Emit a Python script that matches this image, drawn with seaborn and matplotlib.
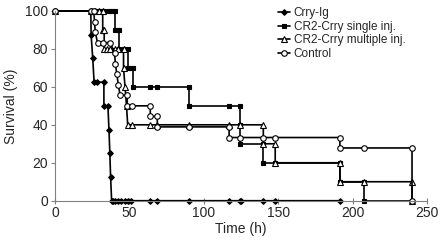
import numpy as np
import pandas as pd
import matplotlib
matplotlib.use("Agg")
import matplotlib.pyplot as plt
import seaborn as sns

# survival curves (time in h, survival in %)
# repeated times are the vertical drops of the step curves
crry_t = [0, 24, 24.2, 25.3, 26.2, 28, 32.8, 32.8, 35.5, 36.2, 36.8, 37.3, 38,
          39, 40.5, 42, 44, 47, 49, 51, 64, 68.7, 90, 117, 124, 125, 140, 148, 191.5]
crry_s = [100, 100, 87.5, 75, 62.5, 62.5, 62.5, 50, 50, 37.5, 25, 12.5, 0,
          0, 0, 0, 0, 0, 0, 0, 0, 0, 0, 0, 0, 0, 0, 0, 0]

single_t = [0, 24, 26, 28, 30, 33, 36, 38, 40.5, 40.5, 42, 43, 43, 46, 49, 49, 51,
            52.5, 52.5, 64, 68.7, 90, 90, 117, 124, 124, 124, 140, 140, 148,
            191.5, 191.5, 208, 208, 240]
single_s = [100, 100, 100, 100, 100, 100, 100, 100, 100, 90, 90, 90, 80, 80, 80, 70, 70,
            70, 60, 60, 60, 60, 50, 50, 50, 40, 30, 30, 20, 20,
            20, 10, 10, 0, 0]

multi_t = [0, 24, 27, 29.6, 32, 32, 33, 33, 35, 37, 40, 42, 46, 46, 47, 48, 48.8,
           51.5, 64, 68.7, 90, 117, 124, 140, 140, 148, 148, 191.5, 191.5, 208,
           240, 240]
multi_s = [100, 100, 100, 100, 100, 90, 90, 80, 80, 80, 80, 80, 80, 70, 60, 50, 40,
           40, 40, 40, 40, 40, 40, 40, 30, 30, 20, 20, 10, 10,
           10, 0]

ctrl_t = [0, 24, 26, 26.5, 27, 28.5, 32, 37, 40, 40.5, 41.5, 42.5, 43.7, 48.5,
          48.5, 52, 64, 64, 68.7, 68.7, 90, 117, 117, 124, 140, 148, 191.5,
          191.5, 208, 240, 240]
ctrl_s = [100, 100, 100, 94.4, 88.9, 83.3, 83.3, 83.3, 77.8, 72.2, 66.7, 61.1, 55.6, 55.6,
          50, 50, 50, 44.4, 44.4, 38.9, 38.9, 38.9, 33.3, 33.3, 33.3, 33.3, 33.3,
          27.8, 27.8, 27.8, 0]

groups = ["Crry-Ig", "CR2-Crry single inj.", "CR2-Crry multiple inj.", "Control"]
times = [crry_t, single_t, multi_t, ctrl_t]
surv = [crry_s, single_s, multi_s, ctrl_s]
markers = ["D", "s", "^", "o"]
faces = ["black", "black", "white", "white"]
sizes = [2.9, 3.3, 3.9, 4.0]

sns.set_style("ticks")
plt.rcParams["font.family"] = ["Liberation Sans", "DejaVu Sans"]

fig = plt.figure(figsize=(4.41, 2.43), dpi=100)
ax = fig.add_axes([0.125, 0.174, 0.843, 0.781])

for name, t, s, m, fc, ms in zip(groups, times, surv, markers, faces, sizes):
    df = pd.DataFrame({"time": t, "surv": s})
    sns.lineplot(data=df, x="time", y="surv", ax=ax, sort=False, estimator=None,
                 color="black", linewidth=1.2, marker=m, markersize=ms,
                 markerfacecolor=fc, markeredgecolor="black", markeredgewidth=0.8,
                 label=name, clip_on=False)

ax.set_xlim(0, 250)
ax.set_ylim(0, 100)
ax.set_xticks(np.arange(0, 251, 50))
ax.set_yticks(np.arange(0, 101, 20))
ax.set_xlabel("Time (h)", fontsize=10, labelpad=2)
ax.set_ylabel("Survival (%)", fontsize=10, labelpad=5)
ax.tick_params(axis="both", labelsize=10, color="#808080", width=0.8)
ax.tick_params(axis="x", direction="inout", length=5, pad=1)
ax.tick_params(axis="y", direction="out", length=3, pad=2)
for side in ["top", "right"]:
    ax.spines[side].set_visible(False)
for side in ["left", "bottom"]:
    ax.spines[side].set_color("#808080")
    ax.spines[side].set_linewidth(0.8)

ax.legend(loc="upper left", bbox_to_anchor=(0.588, 1.045), frameon=False,
          fontsize=8.5, handlelength=1.0, handletextpad=0.3, labelspacing=0.13,
          borderaxespad=0)

fig.savefig("out.png", dpi=100)
